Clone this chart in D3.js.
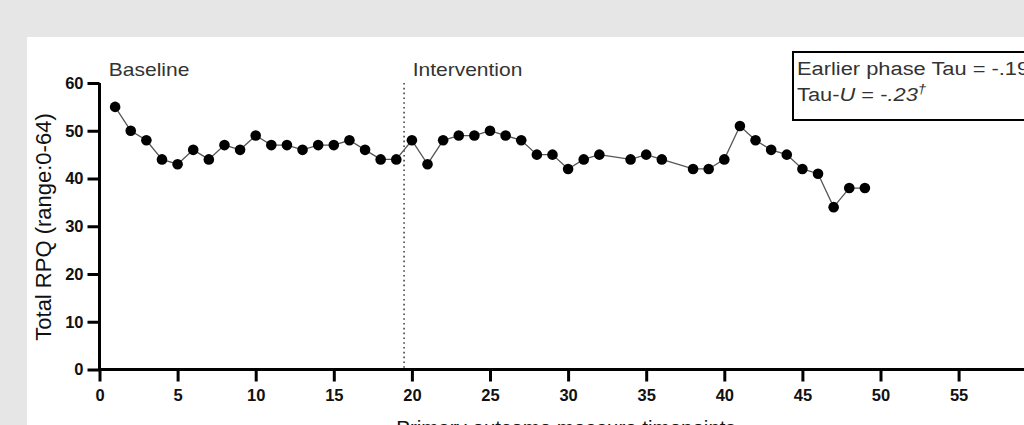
<!DOCTYPE html>
<html><head><meta charset="utf-8">
<script src="https://cdn.jsdelivr.net/npm/d3@7"></script>
<style>
html,body{margin:0;padding:0;background:#e6e6e6;overflow:hidden;}
svg{display:block;font-family:"Liberation Sans",Arial,sans-serif;}
</style></head><body>
<svg id="chart" width="1024" height="425"></svg>
<script>
const timepoints = [1,2,3,4,5,6,7,8,9,10,11,12,13,14,15,16,17,18,19,
  20,21,22,23,24,25,26,27,28,29,30,31,32,34,35,36,38,39,40,41,42,43,44,45,46,47,48,49];
const rpq = [55,50,48,44,43,46,44,47,46,49,47,47,46,47,47,48,46,44,44,
  48,43,48,49,49,50,49,48,45,45,42,44,45,44,45,44,42,42,44,51,48,46,45,42,41,34,38,38];
const xTicks = [0,5,10,15,20,25,30,35,40,45,50,55];
const yTicks = [0,10,20,30,40,50,60];
const phaseChange = 19.5;
const phaseLabels = [{label:"Baseline", x:0.6},{label:"Intervention", x:20.05}];

const svg = d3.select("#chart");
svg.append("rect").attr("x",27).attr("y",37).attr("width",1000).attr("height",400).attr("fill","#fff");

const x = d3.scaleLinear().domain([0,60]).range([99.5, 99.5+60*15.62]);
const y = d3.scaleLinear().domain([0,60]).range([369.5, 83]);

// dotted phase line
svg.append("line").attr("x1",x(phaseChange)).attr("x2",x(phaseChange))
  .attr("y1",y(60)).attr("y2",y(0))
  .attr("stroke","#444").attr("stroke-width",1.6).attr("stroke-dasharray","1.6,3.2");

// axes
const yAxis = svg.append("g").attr("transform","translate("+x(0)+",0)")
  .call(d3.axisLeft(y).tickValues(yTicks).tickSize(12).tickPadding(4));
const xAxis = svg.append("g").attr("transform","translate(0,"+y(0)+")")
  .call(d3.axisBottom(x).tickValues(xTicks).tickSize(12).tickPadding(8));
[yAxis,xAxis].forEach(g=>{
  g.attr("font-size",16.5).attr("font-family","'Liberation Sans',Arial,sans-serif");
  g.select(".domain").attr("stroke","#000").attr("stroke-width",3);
  g.selectAll(".tick line").attr("stroke","#000").attr("stroke-width",3);
  g.selectAll(".tick text").attr("fill","#111").attr("font-size",16.5).attr("font-weight","bold");
});
yAxis.select(".domain").attr("d","M0,"+y(60)+"V"+(y(0)+1.5));
xAxis.select(".domain").attr("d","M"+(x(0)-1.5)+",0H1100");

// line
const pts = timepoints.map((t,i)=>({t,v:rpq[i]}));
svg.append("path").datum(pts)
  .attr("fill","none").attr("stroke","#555").attr("stroke-width",1.3)
  .attr("d", d3.line().x(d=>x(d.t)).y(d=>y(d.v)));
svg.selectAll("circle.pt").data(pts).enter().append("circle")
  .attr("cx",d=>x(d.t)).attr("cy",d=>y(d.v)).attr("r",5.3).attr("fill","#000");

// phase labels (slightly wide font, as in the reference)
svg.selectAll("text.phase").data(phaseLabels).enter().append("text")
  .attr("transform",d=>"translate("+x(d.x)+",76) scale(1.2,1)")
  .attr("font-size",17.5).attr("fill","#333").text(d=>d.label);

// y title
svg.append("text").attr("transform","translate(51,227) rotate(-90)")
  .attr("text-anchor","middle").attr("font-size",22).attr("fill","#111")
  .text("Total RPQ (range:0-64)");

// x title
svg.append("text").attr("x",566).attr("y",435).attr("text-anchor","middle")
  .attr("font-size",20.5).attr("fill","#111").text("Primary outcome measure timepoints");

// legend box
svg.append("rect").attr("x",793).attr("y",52).attr("width",300).attr("height",68)
  .attr("fill","#fff").attr("stroke","#000").attr("stroke-width",2);
svg.append("text").attr("transform","translate(797,75) scale(1.15,1)")
  .attr("font-size",19).attr("fill","#333")
  .text("Earlier phase Tau = -.19");
const t2 = svg.append("text").attr("transform","translate(797,101) scale(1.15,1)")
  .attr("font-size",19).attr("fill","#333");
t2.append("tspan").text("Tau-");
t2.append("tspan").attr("font-style","italic").text("U");
t2.append("tspan").text(" = -");
t2.append("tspan").attr("font-style","italic").text(".23");
t2.append("tspan").attr("font-style","italic").attr("font-size",13).attr("dy",-8).text("\u2020");
</script>
</body></html>
